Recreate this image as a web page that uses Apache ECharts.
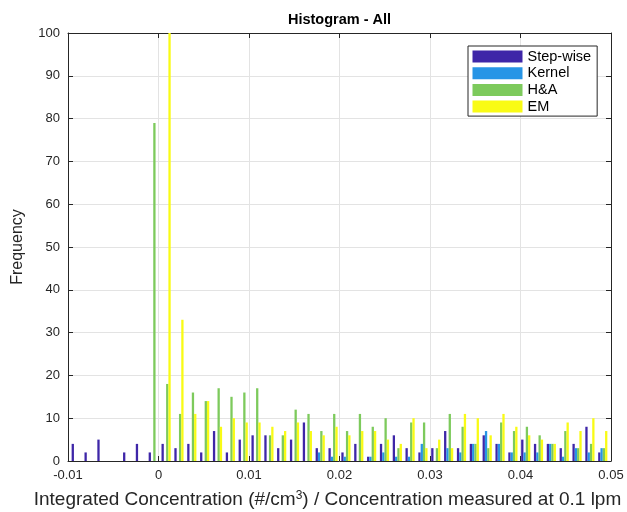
<!DOCTYPE html>
<html>
<head>
<meta charset="utf-8">
<script src="https://cdn.jsdelivr.net/npm/echarts@6/dist/echarts.min.js"></script>
<style>
  html, body { margin: 0; padding: 0; background: #ffffff; }
  #chart { width: 627px; height: 512px; }
</style>
</head>
<body>
<div id="chart"></div>
<script>
// Histogram bin centres (42 bins)
const binCenters = [
  -0.00909, -0.00767, -0.00625, -0.00483, -0.00341, -0.00200, -0.00058,
   0.00084,  0.00226,  0.00368,  0.00510,  0.00652,  0.00794,  0.00936,
   0.01078,  0.01220,  0.01361,  0.01503,  0.01645,  0.01787,  0.01929,
   0.02071,  0.02213,  0.02355,  0.02497,  0.02639,  0.02780,  0.02922,
   0.03064,  0.03206,  0.03348,  0.03490,  0.03632,  0.03774,  0.03916,
   0.04058,  0.04199,  0.04341,  0.04483,  0.04625,  0.04767,  0.04909
];

// Counts per bin for each method
const stepWise = [4, 2, 5, 0, 2, 4, 2, 4, 3, 4, 2, 7, 2, 5, 6, 6, 3, 5, 9, 3, 3,
                  2, 4, 1, 4, 6, 3, 2, 3, 7, 3, 4, 6, 4, 2, 5, 4, 4, 3, 4, 8, 2];
const kernel   = [0, 0, 0, 0, 0, 0, 0, 0, 0, 0, 0, 0, 0, 0, 0, 0, 0, 0, 0, 2, 1,
                  1, 0, 1, 2, 1, 1, 4, 0, 3, 2, 4, 7, 4, 2, 2, 2, 4, 1, 3, 2, 3];
const hAndA    = [0, 0, 0, 0, 0, 0, 79, 18, 11, 16, 14, 17, 15, 16, 17, 6, 6, 12, 11, 7, 11,
                  7, 11, 8, 10, 3, 9, 9, 3, 11, 8, 4, 3, 9, 7, 8, 6, 4, 7, 3, 4, 3];
const em       = [0, 0, 0, 0, 0, 0, 0, 100, 33, 11, 14, 8, 10, 9, 9, 8, 7, 9, 7, 6, 8,
                  6, 7, 7, 5, 4, 10, 3, 5, 3, 11, 10, 6, 11, 8, 6, 5, 4, 9, 7, 10, 7];

const seriesNames  = ['Step-wise', 'Kernel', 'H&A', 'EM'];
const seriesValues = [stepWise, kernel, hAndA, em];
const seriesColors = ['#3e26a8', '#2795e6', '#7dca5c', '#f9fb15'];

const xTickLabels = ['-0.01', '0', '0.01', '0.02', '0.03', '0.04', '0.05'];
const yTickLabels = ['0', '10', '20', '30', '40', '50', '60', '70', '80', '90', '100'];

const FONT = '"Liberation Sans", Arial, Helvetica, sans-serif';
const AXIS_COLOR = '#262626';
const GRID_COLOR = '#e3e3e3';

const chart = echarts.init(document.getElementById('chart'), null, { renderer: 'canvas' });

const tickStyle = { show: true, inside: true, length: 5, lineStyle: { color: AXIS_COLOR, width: 1 } };
const lineStyle = { show: true, onZero: false, lineStyle: { color: AXIS_COLOR, width: 1 } };

const option = {
  backgroundColor: '#ffffff',
  animation: false,
  textStyle: { fontFamily: FONT },
  title: {
    text: 'Histogram - All',
    left: 334.5,
    textAlign: 'center',
    top: 7,
    textStyle: { fontFamily: FONT, fontSize: 14.5, fontWeight: 'bold', color: '#000000' }
  },
  legend: {
    orient: 'vertical',
    left: 468,
    top: 46,
    data: seriesNames,
    icon: 'rect',
    itemWidth: 50,
    itemHeight: 12,
    itemGap: 1.7,
    padding: [3, 6, 2, 4.5],
    borderColor: AXIS_COLOR,
    borderWidth: 1,
    backgroundColor: '#ffffff',
    textStyle: { fontFamily: FONT, fontSize: 14.5, color: '#000000' }
  },
  grid: {
    left: 68, right: 16, top: 33, bottom: 51,
    containLabel: false,
    outerBoundsMode: 'none'
  },
  xAxis: [
    {
      type: 'value',
      min: -0.01, max: 0.05, interval: 0.01,
      position: 'bottom',
      axisLine: lineStyle,
      axisTick: tickStyle,
      splitLine: { show: true, lineStyle: { color: GRID_COLOR, width: 1 } },
      axisLabel: {
        fontFamily: FONT, fontSize: 13, color: AXIS_COLOR, margin: 8,
        formatter: (v) => xTickLabels[Math.round((v + 0.01) / 0.01)]
      },
      name: '{t|Integrated Concentration (#/cm}{s|3}{t|) / Concentration measured at 0.1 lpm}',
      nameLocation: 'middle',
      nameGap: 29,
      nameTextStyle: {
        padding: [0, 24, 0, 0],
        rich: {
          t: { fontFamily: FONT, fontSize: 19, color: AXIS_COLOR },
          s: { fontFamily: FONT, fontSize: 12, color: AXIS_COLOR, verticalAlign: 'top' }
        }
      }
    },
    {
      type: 'value',
      min: -0.01, max: 0.05, interval: 0.01,
      position: 'top',
      axisLine: lineStyle,
      axisTick: tickStyle,
      splitLine: { show: false },
      axisLabel: { show: false }
    }
  ],
  yAxis: [
    {
      type: 'value',
      min: 0, max: 100, interval: 10,
      position: 'left',
      axisLine: lineStyle,
      axisTick: tickStyle,
      splitLine: { show: true, lineStyle: { color: GRID_COLOR, width: 1 } },
      axisLabel: {
        fontFamily: FONT, fontSize: 13, color: AXIS_COLOR, margin: 8,
        formatter: (v) => yTickLabels[Math.round(v / 10)]
      },
      name: 'Frequency',
      nameLocation: 'middle',
      nameRotate: 90,
      nameGap: 42,
      nameTextStyle: { fontFamily: FONT, fontSize: 16, color: AXIS_COLOR }
    },
    {
      type: 'value',
      min: 0, max: 100, interval: 10,
      position: 'right',
      axisLine: lineStyle,
      axisTick: tickStyle,
      splitLine: { show: false },
      axisLabel: { show: false }
    }
  ],
  series: seriesNames.map((name, k) => ({
    name: name,
    type: 'bar',
    xAxisIndex: 0,
    yAxisIndex: 0,
    barWidth: 2.3,
    barGap: '0%',
    itemStyle: { color: seriesColors[k] },
    data: binCenters.map((c, i) => [c, seriesValues[k][i]])
  }))
};

chart.setOption(option);
</script>
</body>
</html>
